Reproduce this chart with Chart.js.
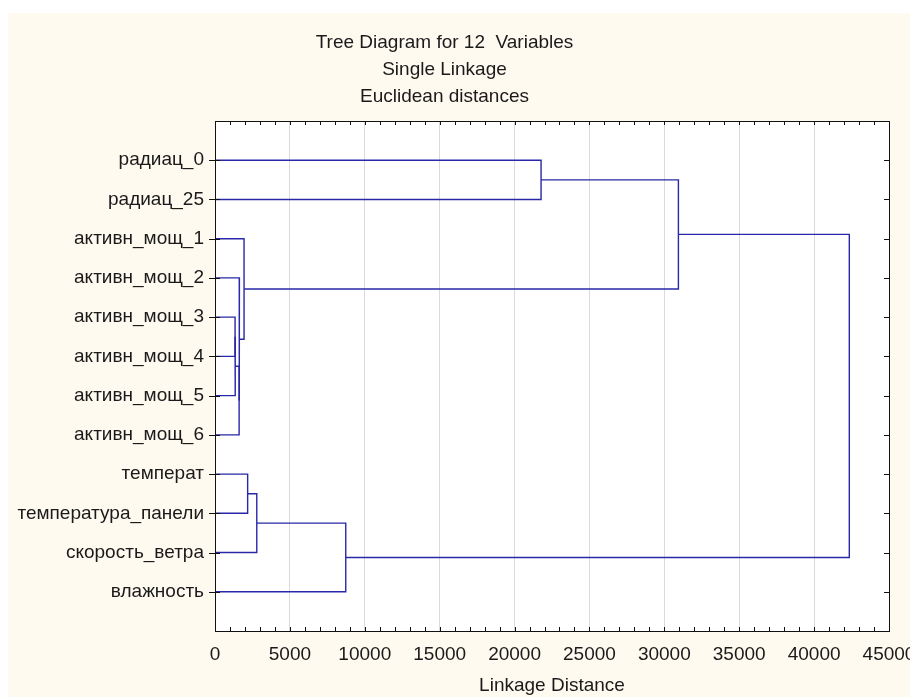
<!DOCTYPE html>
<html lang="ru">
  <head>
    <meta charset="UTF-8" />
    <title>Tree Diagram</title>
    <script src="https://cdn.jsdelivr.net/npm/chart.js@4.4.0/dist/chart.umd.min.js"></script>
    <style>
      body { margin: 0; background: #fff; }
    </style>
  </head>
  <body>
    <canvas id="chart" width="910" height="697"></canvas>

    <script>
      //data
      const labels = [
        'радиац_0', 'радиац_25',
        'активн_мощ_1', 'активн_мощ_2', 'активн_мощ_3', 'активн_мощ_4', 'активн_мощ_5', 'активн_мощ_6',
        'температ', 'температура_панели', 'скорость_ветра', 'влажность'
      ];
      // linkage steps: leaves are 0..11, each merge makes cluster 12, 13, ...
      const mergeLeft = [4, 12, 13, 3, 2, 8, 17, 18, 0, 20, 21];
      const mergeRight = [5, 6, 7, 14, 15, 9, 10, 11, 1, 16, 19];
      const mergeDistance = [1340, 1350, 1610, 1630, 1940, 2180, 2790, 8730, 21770, 30940, 42350];
      const xTicks = [0, 5000, 10000, 15000, 20000, 25000, 30000, 35000, 40000, 45000];

      const titleLines = ['Tree Diagram for 12  Variables', 'Single Linkage', 'Euclidean distances'];
      const xTitle = 'Linkage Distance';

      //build links
      const nodeY = labels.map((l, i) => i + 1);
      const nodeH = labels.map(() => 0);
      const datasets = [];
      mergeDistance.forEach((d, i) => {
        const a = mergeLeft[i];
        const b = mergeRight[i];
        datasets.push({
          data: [
            { x: nodeH[a], y: nodeY[a] },
            { x: d, y: nodeY[a] },
            { x: d, y: nodeY[b] },
            { x: nodeH[b], y: nodeY[b] }
          ],
          borderColor: '#2828a8',
          borderWidth: 1.4,
          pointRadius: 0,
          fill: false,
          tension: 0
        });
        nodeY.push((nodeY[a] + nodeY[b]) / 2);
        nodeH.push(d);
      });

      const FONT = "'Liberation Sans', Arial, sans-serif";

      //background + frame + tick marks
      const frame = {
        id: 'frame',
        beforeDraw(chart) {
          const c = chart.ctx;
          const a = chart.chartArea;
          c.save();
          c.fillStyle = '#ffffff';
          c.fillRect(0, 0, chart.width, chart.height);
          c.fillStyle = '#fffaef';
          c.fillRect(8, 13, chart.width - 8, chart.height - 13);
          c.fillStyle = '#ffffff';
          c.fillRect(a.left, a.top, a.right - a.left, a.bottom - a.top);
          c.restore();
        },
        afterDraw(chart) {
          const c = chart.ctx;
          const a = chart.chartArea;
          const xs = chart.scales.x;
          const ys = chart.scales.y;
          c.save();
          c.strokeStyle = '#111';
          c.lineWidth = 1;
          c.strokeRect(Math.round(a.left) + 0.5, Math.round(a.top) + 0.5, Math.round(a.right - a.left), Math.round(a.bottom - a.top));
          c.beginPath();
          for (let v = xs.min; v <= xs.max; v += 1000) {
            const px = Math.round(xs.getPixelForValue(v)) + 0.5;
            c.moveTo(px, a.top);
            c.lineTo(px, a.top + 4);
            c.moveTo(px, a.bottom);
            c.lineTo(px, a.bottom - 4);
          }
          labels.forEach((l, i) => {
            const py = Math.round(ys.getPixelForValue(i + 1)) + 0.5;
            c.moveTo(a.left - 6, py);
            c.lineTo(a.left + 5, py);
            c.moveTo(a.right, py);
            c.lineTo(a.right - 5, py);
          });
          c.stroke();
          c.restore();
        }
      };

      //config
      const config = {
        type: 'line',
        data: { datasets: datasets },
        options: {
          responsive: false,
          animation: false,
          layout: { padding: { left: 0, right: 21, top: 0, bottom: 0 } },
          plugins: {
            legend: { display: false },
            tooltip: { enabled: false },
            title: {
              display: true,
              text: titleLines,
              color: '#1a1a1a',
              font: { family: FONT, size: 19, weight: 'normal', lineHeight: '27px' },
              padding: { top: 29, bottom: 11 }
            }
          },
          scales: {
            x: {
              type: 'linear',
              min: 0,
              max: 45000,
              afterBuildTicks: (scale) => {
                scale.ticks = xTicks.map((v) => ({ value: v }));
              },
              afterFit: (scale) => {
                scale.height = 66;
                scale.paddingLeft = 0;
                scale.paddingRight = 0;
              },
              ticks: {
                color: '#1a1a1a',
                font: { family: FONT, size: 19 },
                padding: 12,
                maxRotation: 0,
                autoSkip: false,
                callback: (v) => String(v)
              },
              grid: { color: '#dadada', drawTicks: false },
              border: { display: false },
              title: {
                display: true,
                text: xTitle,
                color: '#1a1a1a',
                font: { family: FONT, size: 19 },
                padding: { top: 8, bottom: 0 }
              }
            },
            y: {
              type: 'linear',
              min: 0,
              max: 13,
              reverse: true,
              afterBuildTicks: (scale) => {
                scale.ticks = labels.map((l, i) => ({ value: i + 1 }));
              },
              afterFit: (scale) => {
                scale.width = 215;
                scale.paddingTop = 0;
                scale.paddingBottom = 0;
              },
              ticks: {
                color: '#1a1a1a',
                font: { family: FONT, size: 19 },
                padding: 11,
                autoSkip: false,
                callback: (v) => labels[v - 1] || ''
              },
              grid: { display: false, drawTicks: false },
              border: { display: false }
            }
          }
        },
        plugins: [frame]
      };

      //init
      const ctx = document.getElementById('chart');
      const chart = new Chart(ctx, config);
    </script>
  </body>
</html>
